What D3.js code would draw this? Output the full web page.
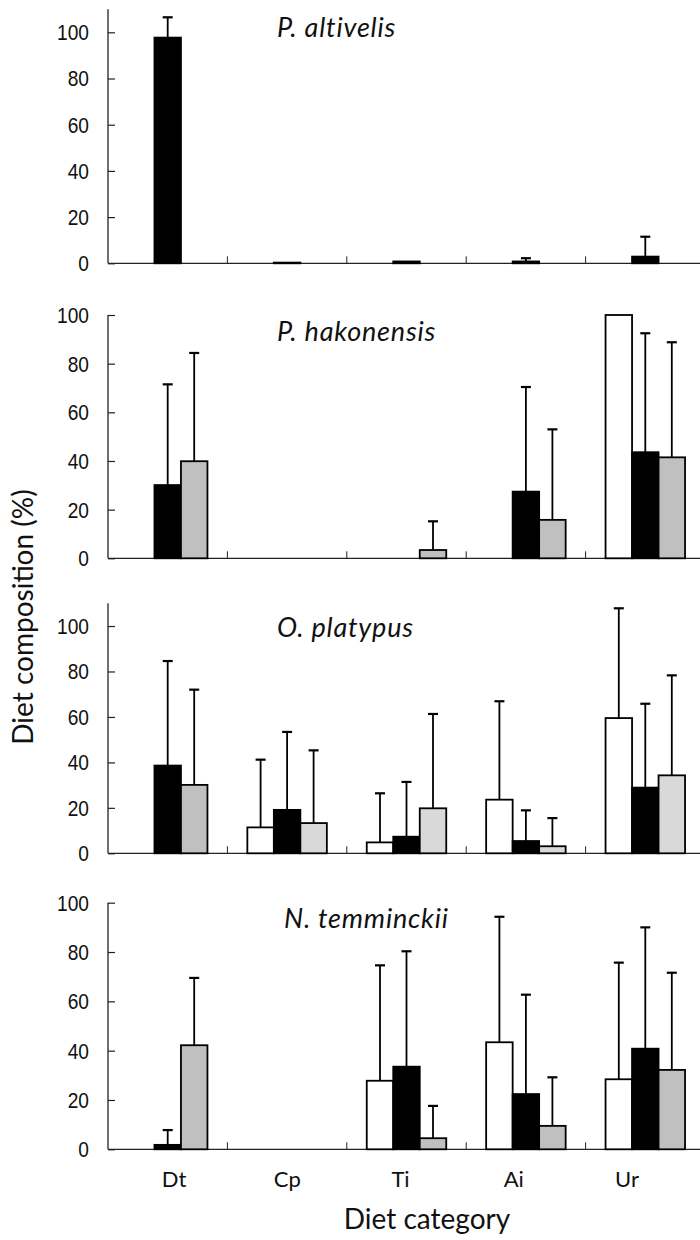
<!DOCTYPE html>
<html>
<head>
<meta charset="utf-8">
<script src="https://cdn.jsdelivr.net/npm/d3@7/dist/d3.min.js"></script>
<style>
  html, body { margin: 0; padding: 0; background: #fff; }
  svg { display: block; }
</style>
</head>
<body>
<svg id="chart" width="700" height="1240"></svg>
<script>
// Diet categories on the x axis
const categories = ["Dt", "Cp", "Ti", "Ai", "Ur"];
// Three groups plotted side by side within each category
const groups = ["group1", "group2", "group3"];
// Species, one panel each
const species = ["P. altivelis", "P. hakonensis", "O. platypus", "N. temminckii"];

// Mean diet composition (%) per species, group and category (null = no bar)
const altivelisMean = [
  [null, null, null, null, null],
  [97.7, 0.3, 0.8, 0.8, 2.9],
  [null, null, null, null, null]
];
const altivelisSD = [
  [0, 0, 0, 0, 0],
  [8.8, 0, 0, 1.4, 8.6],
  [0, 0, 0, 0, 0]
];
const hakonensisMean = [
  [null, null, null, null, 100],
  [30.1, null, null, 27.4, 43.6],
  [39.9, null, 3.4, 15.8, 41.5]
];
const hakonensisSD = [
  [0, 0, 0, 0, 0],
  [41.4, 0, 0, 43.0, 48.9],
  [44.5, 0, 11.8, 37.2, 47.3]
];
const platypusMean = [
  [null, 11.4, 4.8, 23.6, 59.5],
  [38.6, 19.1, 7.3, 5.4, 28.9],
  [30.1, 13.3, 19.8, 3.1, 34.3]
];
const platypusSD = [
  [0, 29.8, 21.6, 43.3, 48.3],
  [46.0, 34.3, 24.1, 13.5, 36.9],
  [41.9, 32.0, 41.5, 12.4, 44.0]
];
const temminckiiMean = [
  [null, null, 27.8, 43.4, 28.4],
  [1.8, null, 33.5, 22.4, 40.8],
  [42.2, null, 4.5, 9.5, 32.2]
];
const temminckiiSD = [
  [0, 0, 46.8, 50.9, 47.3],
  [6.0, 0, 46.8, 40.3, 49.2],
  [27.3, 0, 13.1, 19.7, 39.4]
];
const yTickValues = [0, 20, 40, 60, 80, 100];

const means = [altivelisMean, hakonensisMean, platypusMean, temminckiiMean];
const sds = [altivelisSD, hakonensisSD, platypusSD, temminckiiSD];

// Panel layout: baseline, top of axis, axis maximum, title anchor
const panelLayout = [
  { base: 263.3, top: 9.2,   max: 110, titleX: 277, titleY: 37 },
  { base: 558.3, top: 315,   max: 100, titleX: 277, titleY: 341 },
  { base: 853.3, top: 603.3, max: 110, titleX: 277, titleY: 637 },
  { base: 1149.3, top: 902.7, max: 100, titleX: 284, titleY: 928 }
];

const groupFill = ["#ffffff", "#000000", "#c0c0c0"];
const lighterThird = { 2: ["Cp", "Ti", "Ai", "Ur"] };  // panel index -> categories with light fill
function fillFor(panel, g, cat) {
  if (g === 2 && lighterThird[panel] && lighterThird[panel].includes(cat)) return "#d9d9d9";
  return groupFill[g];
}

const svg = d3.select("#chart");
const xLeft = 108, xRight = 705;

const x = d3.scaleBand().domain(categories).range([xLeft, xRight]).paddingInner(0).paddingOuter(0);
const groupWidth = 79.5;
const xg = d3.scaleBand().domain(groups).range([0, groupWidth]);
// category label positions under the bottom panel
const xLabel = d3.scalePoint().domain(categories).range([174, 627]);

species.forEach((sp, pi) => {
  const L = panelLayout[pi];
  const y = d3.scaleLinear().domain([0, L.max]).range([L.base, L.top]);
  const g = svg.append("g");

  // y axis with inward ticks
  const yAxis = d3.axisRight(y).tickValues(yTickValues).tickSize(7).tickFormat("");
  const ya = g.append("g").attr("transform", `translate(${xLeft},0)`).call(yAxis);
  ya.select(".domain").attr("d", `M0,${L.base}V${L.top}`).attr("stroke", "#222").attr("stroke-width", 1.3);
  ya.selectAll(".tick line").attr("stroke", "#222").attr("stroke-width", 1.2);

  g.selectAll("text.ytick").data(yTickValues).join("text")
    .attr("class", "ytick")
    .attr("transform", d => `translate(89,${y(d)}) scale(0.87,1)`)
    .attr("dy", "0.36em")
    .attr("text-anchor", "end")
    .style("font-family", "'Liberation Sans', Arial, sans-serif")
    .style("font-size", "22px")
    .attr("fill", "#111")
    .text(d => d);

  // x axis with small upward ticks at category boundaries
  g.append("line")
    .attr("x1", xLeft).attr("x2", 700).attr("y1", L.base).attr("y2", L.base)
    .attr("stroke", "#222").attr("stroke-width", 1.3);
  g.selectAll("line.xtick").data(categories.slice(1)).join("line")
    .attr("class", "xtick")
    .attr("x1", d => x(d)).attr("x2", d => x(d))
    .attr("y1", L.base).attr("y2", L.base - 7)
    .attr("stroke", "#222").attr("stroke-width", 1);

  // bars and upward error bars
  const rows = [];
  groups.forEach((gr, gi) => {
    categories.forEach((cat, ci) => {
      const m = means[pi][gi][ci];
      if (m === null) return;
      rows.push({ gi, gr, cat, mean: m, sd: sds[pi][gi][ci] });
    });
  });

  const bx = d => x(d.cat) + (x.bandwidth() - groupWidth) / 2 + xg(d.gr);

  g.selectAll("line.err").data(rows.filter(d => d.sd > 0)).join("line")
    .attr("class", "err")
    .attr("x1", d => bx(d) + xg.bandwidth() / 2)
    .attr("x2", d => bx(d) + xg.bandwidth() / 2)
    .attr("y1", d => y(d.mean))
    .attr("y2", d => y(d.mean + d.sd))
    .attr("stroke", "#000").attr("stroke-width", 1.8);
  g.selectAll("line.cap").data(rows.filter(d => d.sd > 0)).join("line")
    .attr("class", "cap")
    .attr("x1", d => bx(d) + xg.bandwidth() / 2 - 5)
    .attr("x2", d => bx(d) + xg.bandwidth() / 2 + 5)
    .attr("y1", d => y(d.mean + d.sd))
    .attr("y2", d => y(d.mean + d.sd))
    .attr("stroke", "#000").attr("stroke-width", 2.2);

  g.selectAll("rect.bar").data(rows).join("rect")
    .attr("class", "bar")
    .attr("x", d => bx(d))
    .attr("width", xg.bandwidth())
    .attr("y", d => y(d.mean))
    .attr("height", d => L.base - y(d.mean))
    .attr("fill", d => fillFor(pi, d.gi, d.cat))
    .attr("stroke", "#000").attr("stroke-width", 1.8);

  // species title
  g.append("text")
    .attr("x", L.titleX).attr("y", L.titleY)
    .style("font-family", "Lato, 'Open Sans', sans-serif")
    .style("font-style", "italic")
    .style("font-size", "27px")
    .style("letter-spacing", "0.8px")
    .attr("fill", "#111")
    .text(sp);
});

// category labels under the bottom panel
svg.selectAll("text.cat").data(categories).join("text")
  .attr("class", "cat")
  .attr("x", d => xLabel(d))
  .attr("y", 1187)
  .attr("text-anchor", "middle")
  .style("font-family", "Lato, 'Open Sans', sans-serif")
  .style("font-size", "22px")
  .attr("fill", "#111")
  .text(d => d);

// axis titles
svg.append("text")
  .attr("x", 427).attr("y", 1229)
  .attr("text-anchor", "middle")
  .style("font-family", "Lato, 'Open Sans', sans-serif")
  .style("font-size", "28px")
  .attr("fill", "#111")
  .text("Diet category");

svg.append("text")
  .attr("transform", "translate(33,617) rotate(-90)")
  .attr("text-anchor", "middle")
  .style("font-family", "Lato, 'Open Sans', sans-serif")
  .style("font-size", "28px")
  .attr("fill", "#111")
  .text("Diet composition (%)");
</script>
</body>
</html>
